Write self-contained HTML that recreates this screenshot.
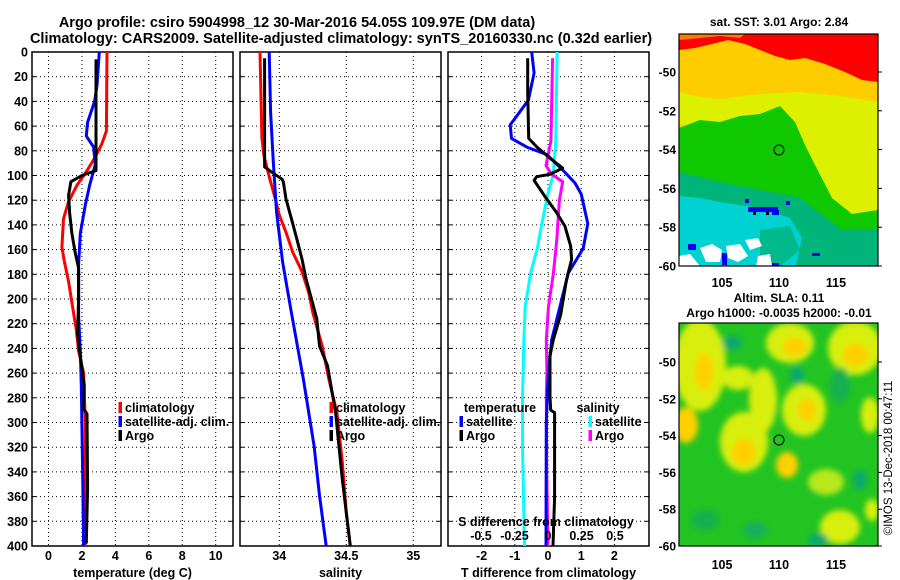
<!DOCTYPE html>
<html><head><meta charset="utf-8"><style>
html,body{margin:0;padding:0;background:#fff;}
svg{display:block;font-family:"Liberation Sans",Arial,sans-serif;font-weight:bold;}
</style></head><body>
<svg id="fig" width="900" height="580" viewBox="0 0 900 580" xmlns="http://www.w3.org/2000/svg">
<defs>
<filter id="blur" x="-20%" y="-20%" width="140%" height="140%"><feGaussianBlur stdDeviation="3"/></filter>
<clipPath id="m1clip"><rect x="679" y="34" width="199" height="232"/></clipPath>
<clipPath id="m2clip"><rect x="679" y="323" width="199" height="223"/></clipPath>
</defs>
<text x="297" y="27" font-size="14.5" text-anchor="middle">Argo profile: csiro 5904998_12 30-Mar-2016 54.05S 109.97E (DM data)</text>
<text x="341" y="43" font-size="14.5" text-anchor="middle">Climatology: CARS2009. Satellite-adjusted climatology: synTS_20160330.nc (0.32d earlier)</text>

<!-- Map 1 SST -->
<g clip-path="url(#m1clip)">
<rect x="679" y="34" width="199" height="232" fill="#ffcc00"/>
<polygon fill="#ff0000" points="679,34 878,34 878,82 862,80 845,72 825,64 805,58 790,60 775,56 760,50 745,44 728,40 712,44 695,48 679,50"/>
<polygon fill="#ffcc00" points="679,40 700,38 720,36 740,38 745,34 679,34" opacity="0.6"/>
<polygon fill="#dcf000" points="679,92 700,97 720,99 760,94 800,92 840,96 878,102 878,212 852,216 832,200 816,180 802,160 792,142 760,136 730,132 700,128 679,124"/>
<polygon fill="#10c800" points="679,128 700,120 720,122 740,116 760,114 780,106 795,122 805,145 815,165 832,198 852,214 878,210 878,234 842,232 810,218 790,204 760,194 720,188 679,184"/>
<polygon fill="#00b47a" points="679,172 720,182 760,190 800,198 842,230 878,230 878,266 679,266"/>
<polygon fill="#00d2d2" points="679,196 700,198 720,202 760,208 790,218 802,238 796,266 679,266"/>
<polygon fill="#00b47a" points="760,230 790,226 800,250 780,266 760,266" opacity="0.8"/>
<polygon fill="#ffffff" points="679,256 690,254 700,266 679,266"/>
<polygon fill="#ffffff" points="700,248 712,244 722,250 720,262 706,262"/>
<polygon fill="#ffffff" points="726,246 740,244 748,256 738,262 728,258"/>
<polygon fill="#ffffff" points="745,240 758,238 762,246 750,250"/>
<polygon fill="#ffffff" points="758,256 770,254 772,266 756,266"/>
<rect x="748" y="207" width="30" height="5" fill="#0000ee"/>
<rect x="753" y="212" width="3" height="3" fill="#000"/>
<rect x="766" y="212" width="3" height="3" fill="#000"/>
<rect x="772" y="210" width="7" height="5" fill="#0000ee"/>
<rect x="745" y="199" width="4" height="4" fill="#0000ee"/>
<rect x="786" y="201" width="4" height="4" fill="#0000ee"/>
<rect x="688" y="244" width="8" height="6" fill="#0000ee"/>
<rect x="722" y="253" width="5" height="12" fill="#0000ee"/>
<rect x="772" y="263" width="7" height="3" fill="#0000ee"/>
<rect x="812" y="253" width="8" height="3" fill="#0000ee"/>
</g>
<rect x="679" y="34" width="199" height="232" fill="none" stroke="#000" stroke-width="1.2"/>
<circle cx="779" cy="150" r="5" fill="none" stroke="#000" stroke-width="1"/>
<text x="779" y="26" font-size="12" text-anchor="middle">sat. SST: 3.01 Argo: 2.84</text>

<!-- Map 2 SLA -->
<g clip-path="url(#m2clip)">
<rect x="679" y="323" width="199" height="223" fill="#22c422"/>
<g filter="url(#blur)">
<ellipse cx="700" cy="365" rx="26" ry="46" fill="#d8ee10"/>
<ellipse cx="704" cy="372" rx="9" ry="19" fill="#ffd000"/>
<ellipse cx="790" cy="343" rx="24" ry="20" fill="#d8ee10"/>
<ellipse cx="795" cy="347" rx="12" ry="9" fill="#ffd000"/>
<ellipse cx="855" cy="348" rx="27" ry="27" fill="#d8ee10"/>
<ellipse cx="856" cy="355" rx="13" ry="11" fill="#ffd000"/>
<ellipse cx="804" cy="410" rx="22" ry="26" fill="#d8ee10"/>
<ellipse cx="807" cy="410" rx="9" ry="11" fill="#ffd000"/>
<ellipse cx="744" cy="442" rx="24" ry="30" fill="#d8ee10"/>
<ellipse cx="744" cy="452" rx="12" ry="13" fill="#ffd000"/>
<ellipse cx="686" cy="425" rx="12" ry="18" fill="#ffd000"/>
<ellipse cx="787" cy="465" rx="11" ry="13" fill="#ffd000"/>
<ellipse cx="763" cy="400" rx="14" ry="32" fill="#d8ee10"/>
<ellipse cx="738" cy="378" rx="16" ry="12" fill="#d8ee10"/>
<ellipse cx="826" cy="482" rx="18" ry="13" fill="#b8e81a"/>
<ellipse cx="840" cy="527" rx="20" ry="17" fill="#d8ee10"/>
<ellipse cx="870" cy="415" rx="9" ry="18" fill="#d8ee10"/>
<ellipse cx="872" cy="510" rx="7" ry="11" fill="#d8ee10"/>
<ellipse cx="732" cy="343" rx="10" ry="7" fill="#10a870"/>
<ellipse cx="797" cy="375" rx="7" ry="9" fill="#10a870"/>
<ellipse cx="860" cy="480" rx="7" ry="10" fill="#10a870"/>
<ellipse cx="818" cy="540" rx="10" ry="7" fill="#10a870"/>
<ellipse cx="755" cy="530" rx="12" ry="8" fill="#18ae60"/>
<ellipse cx="840" cy="385" rx="10" ry="18" fill="#18b050"/>
<ellipse cx="705" cy="520" rx="14" ry="10" fill="#18b050"/>
</g>
</g>
<rect x="679" y="323" width="199" height="223" fill="none" stroke="#000" stroke-width="1.2"/>
<circle cx="779" cy="440" r="5" fill="#22c422" stroke="#000" stroke-width="1"/>
<text x="779" y="302" font-size="12" text-anchor="middle">Altim. SLA: 0.11</text>
<text x="779" y="317" font-size="12" text-anchor="middle">Argo h1000: -0.0035 h2000: -0.01</text>
<text x="0" y="0" font-size="11.5" font-weight="normal" text-anchor="middle" transform="translate(892,458) rotate(-90)">©IMOS 13-Dec-2018 00:47:11</text>
<g id="plots"></g>
</svg>
<script>
// ---- data ----
const depthTicks=[0,20,40,60,80,100,120,140,160,180,200,220,240,260,280,300,320,340,360,380,400];
const tempTicks=[0,2,4,6,8,10];
const salTicks=[34,34.5,35];
const tdiffTicks=[-2,-1,0,1,2];
const sdiffTicks=[-0.5,-0.25,0,0.25,0.5];
const sdiffTickLabels=['-0.5','-0.25','0','0.25','0.5'];
const latTicks=[-50,-52,-54,-56,-58,-60];
const lonTicks=[105,110,115];

const tClimDepth=[0,64,74,85,96,108,121,135,158,169,186,208,225,242,260,300,400];
const tClimVal=[3.5,3.46,3.2,2.8,2.3,1.7,1.2,0.9,0.8,0.94,1.2,1.46,1.66,1.8,2.1,2.2,2.2];
const tSatDepth=[0,27,40,57,68,77,91,108,124,147,172,214,242,270,353,400];
const tSatVal=[3.04,2.9,2.76,2.34,2.26,2.7,2.8,2.46,2.2,1.9,1.8,1.8,1.9,1.96,2.06,2.1];
const tArgoDepth=[6,96,100,105,116,130,147,163,175,200,228,242,270,289,293,353,398];
const tArgoVal=[2.84,2.84,2.0,1.34,1.2,1.26,1.4,1.6,1.8,1.8,1.74,1.86,2.14,2.1,2.3,2.34,2.26];

const sClimDepth=[0,70,84,103,119,132,146,162,178,195,211,238,265,292,332,373,400];
const sClimVal=[33.856,33.87,33.885,33.93,33.97,34.0,34.05,34.1,34.17,34.22,34.25,34.32,34.37,34.43,34.47,34.5,34.53];
const sSatDepth=[0,49,89,130,170,211,265,319,359,400];
const sSatVal=[33.925,33.935,33.955,33.98,34.025,34.09,34.18,34.26,34.3,34.35];
const sArgoDepth=[5,93,97,103,105,119,135,151,168,184,200,216,238,254,292,346,373,400];
const sArgoVal=[33.89,33.89,33.94,34.02,34.03,34.05,34.09,34.13,34.17,34.2,34.24,34.28,34.3,34.36,34.42,34.47,34.5,34.53];

const dTSatDepth=[0,17,39,59,70,77,83,96,106,115,139,159,179,206,233,260,300,400];
const dTSatVal=[-0.49,-0.42,-0.59,-1.14,-1.1,-0.64,-0.04,0.46,0.81,1.0,1.2,1.06,0.61,0.36,0.11,0.01,-0.05,-0.06];
const dTArgoDepth=[5,32,70,77,86,94,99,101,104,117,130,141,157,168,184,200,213,233,246,279,290,292,360,400];
const dTArgoVal=[-0.61,-0.61,-0.58,-0.33,0.06,0.44,0.06,-0.34,-0.42,-0.09,0.26,0.51,0.68,0.71,0.56,0.46,0.38,0.16,0.06,0.06,0.08,0.2,0.2,0.15];
const dSSatDepth=[0,72,99,117,139,159,179,206,233,279,320,400];
const dSSatVal=[0.068,0.058,0.039,-0.005,-0.046,-0.08,-0.13,-0.17,-0.18,-0.19,-0.19,-0.175];
const dSArgoDepth=[5,72,92,99,105,120,152,179,206,233,260,279,340,400];
const dSArgoVal=[0.034,0.022,-0.015,0.027,0.11,0.085,0.066,0.04,0.004,-0.013,-0.008,-0.013,-0.01,0.0];

// ---- scales ----
const TOP=52, BOT=546;
function yD(d){return TOP+(BOT-TOP)*d/400;}
function xT(t){return 48.5+16.72*t;}
function xS(s){return 279.3+134*(s-34);}
function xTd(t){return 548+33.2*t;}
function xSd(s){return 548+134*s;}
function latY1(l){return 72+(l+50)*(-19.4);}
function latY2(l){return 362+(l+50)*(-18.4);}
function lonX(o){return 779+(o-110)*11.4;}

const NS='http://www.w3.org/2000/svg';
const root=document.getElementById('plots');
function mk(tag,attrs,parent){const e=document.createElementNS(NS,tag);for(const k in attrs)e.setAttribute(k,attrs[k]);(parent||root).appendChild(e);return e;}
function txt(s,x,y,anchor,size,name,parent){const e=mk('text',{x:x,y:y,'text-anchor':anchor,'font-size':size},parent);e.textContent=s;


return e;}

const panels=[
 {x0:32,x1:233,name:'temperature',ticks:tempTicks,labels:tempTicks.map(String),xf:xT,ylabels:true,title:'temperature (deg C)'},
 {x0:240,x1:441,name:'salinity',ticks:salTicks,labels:['34','34.5','35'],xf:xS,ylabels:false,title:'salinity'},
 {x0:448,x1:649,name:'difference',ticks:tdiffTicks,labels:tdiffTicks.map(String),xf:xTd,ylabels:false,title:'T difference from climatology'}
];
panels.forEach(p=>{
 const g=mk('g',{});
 
 
 depthTicks.forEach(d=>{const y=yD(d);
  if(d>0&&d<400){const l=mk('line',{x1:p.x0,x2:p.x1,y1:y,y2:y,stroke:'#000','stroke-width':1,'stroke-dasharray':'1,3'},g);
  
  }
  const t1=mk('line',{x1:p.x0,x2:p.x0+4,y1:y,y2:y,stroke:'#000'},g);
  
  
  const t2=mk('line',{x1:p.x1-4,x2:p.x1,y1:y,y2:y,stroke:'#000'},g);
  
  
  if(p.ylabels){txt(String(d),28,y+4.5,'end',12.5,'depth-tick-label',g);}
 });
 p.ticks.forEach((v,i)=>{const x=p.xf(v);
  const l=mk('line',{x1:x,x2:x,y1:TOP,y2:BOT,stroke:'#000','stroke-width':1,'stroke-dasharray':'1,3'},g);
  
  
  txt(p.labels[i],x,560,'middle',12.5,'x-tick-label',g);
 });
 const r=mk('rect',{x:p.x0,y:TOP,width:p.x1-p.x0,height:BOT-TOP,fill:'none',stroke:'#000','stroke-width':1.5},g);
 
 
 txt(p.title,(p.x0+p.x1)/2,577,'middle',12.5,'x-axis-title',g);
});

function series(depths,vals,xf,color,name){
 const pts=depths.map((d,i)=>xf(vals[i]).toFixed(1)+','+yD(d).toFixed(1)).join(' ');
 const e=mk('polyline',{points:pts,fill:'none',stroke:color,'stroke-width':3,'stroke-linejoin':'round'});
 
 
}
series(tClimDepth,tClimVal,xT,'#ff0000','temp-climatology-line');
series(tSatDepth,tSatVal,xT,'#0000ff','temp-satellite-line');
series(tArgoDepth,tArgoVal,xT,'#000000','temp-argo-line');
series(sClimDepth,sClimVal,xS,'#ff0000','sal-climatology-line');
series(sSatDepth,sSatVal,xS,'#0000ff','sal-satellite-line');
series(sArgoDepth,sArgoVal,xS,'#000000','sal-argo-line');
series(dSSatDepth,dSSatVal,xSd,'#00ffff','sdiff-satellite-line');
series(dSArgoDepth,dSArgoVal,xSd,'#ff00ff','sdiff-argo-line');
series(dTSatDepth,dTSatVal,xTd,'#0000ff','tdiff-satellite-line');
series(dTArgoDepth,dTArgoVal,xTd,'#000000','tdiff-argo-line');

function legendEntry(x,y,color,label){
 const m=mk('rect',{x:x-1.5,y:y-10,width:3.5,height:11,fill:color});
 
 
 const t=txt(label,x+5,y,'start',12.5,'legend-entry');
 t.setAttribute('fill','#000');
}
[[120,'#ff0000','climatology',412],[120,'#0000ff','satellite-adj. clim.',426],[120,'#000','Argo',440],
 [331,'#ff0000','climatology',412],[331,'#0000ff','satellite-adj. clim.',426],[331,'#000','Argo',440]].forEach(a=>legendEntry(a[0],a[3],a[1],a[2]));
txt('temperature',500,412,'middle',12.5,'legend-title-temperature');
legendEntry(461,426,'#0000ff','satellite');
legendEntry(461,440,'#000','Argo');
txt('salinity',598,412,'middle',12.5,'legend-title-salinity');
legendEntry(590,426,'#00ffff','satellite');
legendEntry(590,440,'#ff00ff','Argo');
txt('S difference from climatology',546,526,'middle',12.5,'s-diff-axis-title');
sdiffTicks.forEach((v,i)=>{txt(sdiffTickLabels[i],xSd(v),540,'middle',12.5,'s-diff-tick-label');});

// map axes
latTicks.forEach(l=>{
 [[latY1(l),'sst'],[latY2(l),'sla']].forEach(a=>{
  txt(String(l),676,a[0]+4.5,'end',12,a[1]+'-lat-tick-label');
  const t=mk('line',{x1:878,x2:882,y1:a[0],y2:a[0],stroke:'#000'});
  
  
 });
});
lonTicks.forEach(o=>{
 txt(String(o),lonX(o),287,'middle',12.5,'sst-lon-tick-label');
 txt(String(o),lonX(o),569,'middle',12.5,'sla-lon-tick-label');
});
</script>
</body></html>
